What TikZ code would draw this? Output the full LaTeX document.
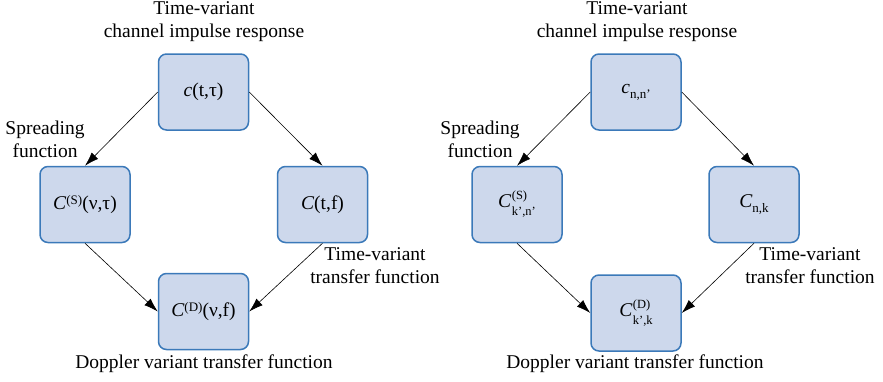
\documentclass[tikz,border=0pt]{standalone}
\usepackage{fontspec}
\setmainfont{Liberation Serif}
\usetikzlibrary{arrows.meta}
\definecolor{boxfill}{HTML}{CDD8EC}
\definecolor{boxedge}{HTML}{3B79B9}
% sub/superscript helpers for the channel functions
\newcommand{\sps}[1]{\raisebox{0.62ex}{\fontsize{13}{13}\selectfont #1}}
\newcommand{\sbs}[1]{\raisebox{-0.55ex}{\fontsize{13}{13}\selectfont #1}}
\newcommand{\both}[2]{{\fontsize{12.5}{16}\selectfont\renewcommand{\arraystretch}{1.0}%
  \begin{tabular}[c]{@{}l@{}}#1\\#2\end{tabular}}}
\begin{document}
\begin{tikzpicture}[x=1pt,y=-1pt,
  fnbox/.style={draw=boxedge,fill=boxfill,line width=1.5pt,rounded corners=8pt,
    minimum width=90pt,minimum height=76pt,inner sep=0pt,font=\fontsize{19.5}{23}\selectfont},
  lbl/.style={align=center,inner sep=0pt,font=\fontsize{19.5}{23}\selectfont},
  conn/.style={draw=black,line width=0.6pt,-{Latex[length=14pt,width=9pt]}}]
\useasboundingbox (0,0) rectangle (883,381);

% continuous-time functions
\node[fnbox] (ct) at (203.5,92) {\textit{c}(t,τ)};
\node[fnbox] (cs) at (85,204.5) {\textit{C}\sps{(S)}(ν,τ)};
\node[fnbox] (cf) at (322.5,204.5) {\textit{C}(t,f)};
\node[fnbox] (cd) at (203.5,311.5) {\textit{C}\sps{(D)}(ν,f)};
\draw[conn] (ct.west) -- (cs.north);
\draw[conn] (ct.east) -- (cf.north);
\draw[conn] (cs.south) -- (cd.west);
\draw[conn] (cf.south) -- (cd.east);
\node[lbl] (lt) at (204,22) {Time-variant\\channel impulse response};
\node[lbl] (ls) at (45,139) {Spreading\\function};
\node[lbl] (lf) at (375,266) {Time-variant\\transfer function};
\node[lbl] (ld) at (204,364) {Doppler variant transfer function};

% discrete-time functions
\node[fnbox] (dt) at (636,92) {\textit{c}\sbs{n,n'}};
\node[fnbox] (ds) at (517,204.5) {\textit{C\/}\kern0.5pt\both{(S)}{k',n'}};
\node[fnbox] (df) at (754,204.5) {\textit{C}\sbs{n,k}};
\node[fnbox] (dd) at (636,313) {\textit{C\/}\kern0.5pt\both{(D)}{k',k}};
\draw[conn] (dt.west) -- (ds.north);
\draw[conn] (dt.east) -- (df.north);
\draw[conn] (ds.south) -- (dd.west);
\draw[conn] (df.south) -- (dd.east);
\node[lbl] (rt) at (637,22) {Time-variant\\channel impulse response};
\node[lbl] (rs) at (480,139) {Spreading\\function};
\node[lbl] (rf) at (810,266) {Time-variant\\transfer function};
\node[lbl] (rd) at (635,364) {Doppler variant transfer function};
\end{tikzpicture}
\end{document}
